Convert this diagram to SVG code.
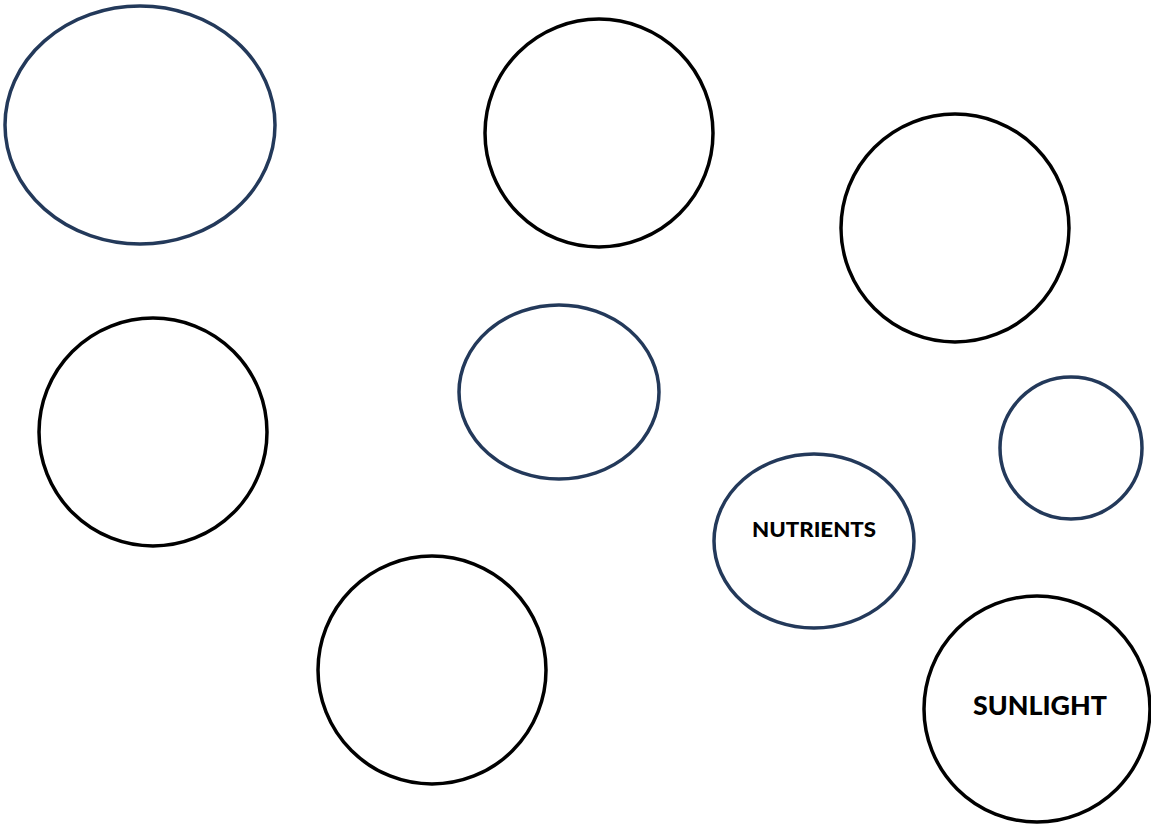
<svg xmlns="http://www.w3.org/2000/svg" width="1151" height="825" viewBox="0 0 1151 825">
<style>
.k{fill:none;stroke:#000;stroke-width:3.5}
.n{fill:none;stroke:#23395a;stroke-width:3.5}
.t{font-family:Lato,"Liberation Sans",sans-serif;font-weight:900;fill:#000;text-anchor:middle}
</style>
<rect width="1151" height="825" fill="#fff"/>
<g id="connectors"></g>
<g id="node1"><ellipse class="n" cx="140" cy="125" rx="135" ry="119"/></g>
<g id="node2"><circle class="k" cx="599" cy="133" r="114"/></g>
<g id="node3"><circle class="k" cx="955" cy="228" r="114"/></g>
<g id="node4"><circle class="k" cx="153" cy="432" r="114"/></g>
<g id="node5"><ellipse class="n" cx="559" cy="392" rx="100" ry="87"/></g>
<g id="node6"><circle class="n" cx="1071" cy="448" r="71"/></g>
<g id="node7"><ellipse class="n" cx="814" cy="541" rx="100" ry="87"/><text class="t" x="814" y="537" font-size="20" textLength="124" lengthAdjust="spacingAndGlyphs">NUTRIENTS</text></g>
<g id="node8"><circle class="k" cx="432" cy="670" r="114"/></g>
<g id="node9"><circle class="k" cx="1037" cy="709" r="113"/><text class="t" x="1040" y="715" font-size="26" textLength="134" lengthAdjust="spacingAndGlyphs">SUNLIGHT</text></g>
</svg>
